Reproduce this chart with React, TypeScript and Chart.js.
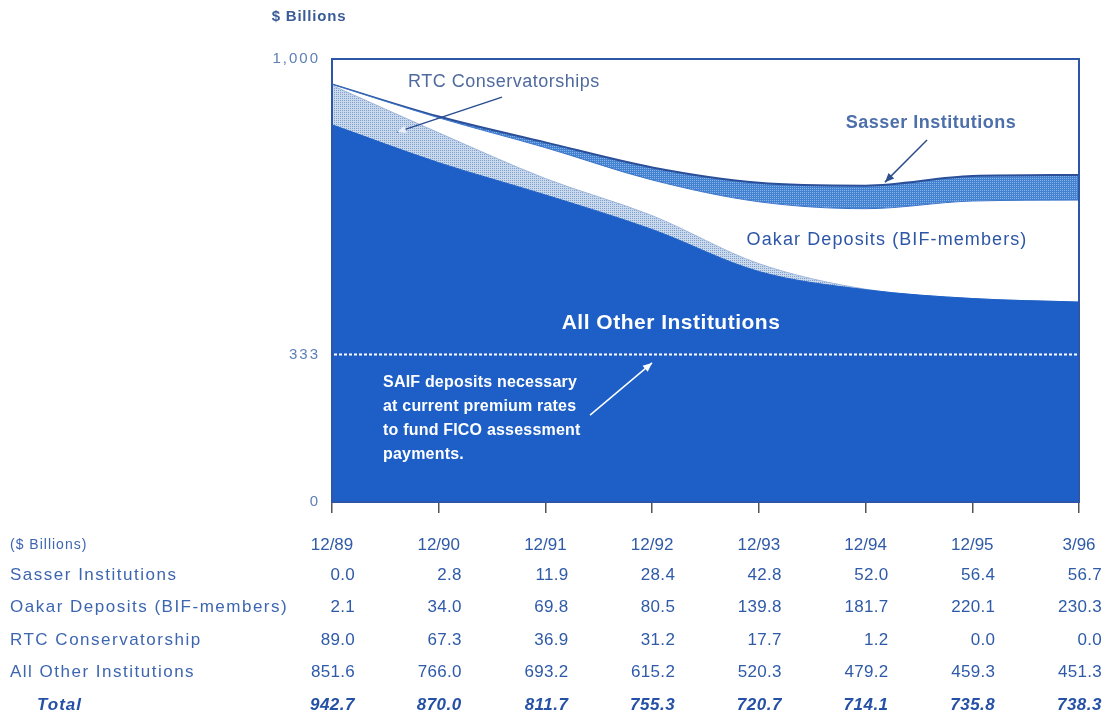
import React, { useEffect, useRef } from "react";
import { Chart, registerables } from "chart.js";

Chart.register(...registerables);

const categories = ["12/89", "12/90", "12/91", "12/92", "12/93", "12/94", "12/95", "3/96"];
const sasser = [0.0, 2.8, 11.9, 28.4, 42.8, 52.0, 56.4, 56.7];
const oakar = [2.1, 34.0, 69.8, 80.5, 139.8, 181.7, 220.1, 230.3];
const rtc = [89.0, 67.3, 36.9, 31.2, 17.7, 1.2, 0.0, 0.0];
const allOther = [851.6, 766.0, 693.2, 615.2, 520.3, 479.2, 459.3, 451.3];
const totals = [942.7, 870.0, 811.7, 755.3, 720.7, 714.1, 735.8, 738.3];
const yTickValues = [0, 333, 1000];
const yTickLabels = ["0", "333", "1,000"];
const saifLevel = 333;

const rowLabels = ["Sasser Institutions", "Oakar Deposits (BIF-members)", "RTC Conservatorship", "All Other Institutions"];
const rowValues = [sasser, oakar, rtc, allOther];

const FONT = "'Liberation Sans', Arial, Helvetica, sans-serif";

function makePattern(base: string, dot: string): CanvasPattern | string {
  const c = document.createElement("canvas");
  c.width = 4;
  c.height = 4;
  const g = c.getContext("2d");
  if (!g) return base;
  g.fillStyle = base;
  g.fillRect(0, 0, 4, 4);
  g.fillStyle = dot;
  g.fillRect(0, 0, 1, 1);
  g.fillRect(2, 2, 1, 1);
  g.fillRect(2, 0, 1, 1);
  g.fillRect(0, 2, 1, 1);
  const p = g.createPattern(c, "repeat");
  return p || base;
}

function drawText(ctx: any, s: string, x: number, y: number, font: string, color: string, align: string = "left", spacing: string = "0px") {
  ctx.font = font;
  ctx.fillStyle = color;
  ctx.textAlign = align;
  ctx.textBaseline = "middle";
  ctx.letterSpacing = spacing;
  ctx.fillText(s, x, y);
  ctx.letterSpacing = "0px";
}

function drawArrow(ctx: any, x1: number, y1: number, x2: number, y2: number, color: string, width: number, headColor: string) {
  ctx.strokeStyle = color;
  ctx.lineWidth = width;
  ctx.beginPath();
  ctx.moveTo(x1, y1);
  ctx.lineTo(x2, y2);
  ctx.stroke();
  const ang = Math.atan2(y2 - y1, x2 - x1);
  const len = 9;
  const hw = 4;
  ctx.fillStyle = headColor;
  ctx.beginPath();
  ctx.moveTo(x2, y2);
  ctx.lineTo(x2 - len * Math.cos(ang) + hw * Math.sin(ang), y2 - len * Math.sin(ang) - hw * Math.cos(ang));
  ctx.lineTo(x2 - len * Math.cos(ang) - hw * Math.sin(ang), y2 - len * Math.sin(ang) + hw * Math.cos(ang));
  ctx.closePath();
  ctx.fill();
}

const overlayPlugin = {
  id: "overlay",
  afterDatasetsDraw(chart: any) {
    const { ctx, chartArea: a, scales } = chart;
    const x = scales.x;
    const y = scales.y;
    const px = (i: number) => x.getPixelForValue(i);
    const py = (v: number) => y.getPixelForValue(v);
    ctx.save();

    // SAIF level dotted line
    ctx.strokeStyle = "#ffffff";
    ctx.lineWidth = 2;
    ctx.setLineDash([3, 2]);
    ctx.beginPath();
    ctx.moveTo(a.left + 2, py(saifLevel));
    ctx.lineTo(a.right - 2, py(saifLevel));
    ctx.stroke();
    ctx.setLineDash([]);

    // frame
    ctx.strokeStyle = "#2d56a8";
    ctx.lineWidth = 2;
    ctx.strokeRect(a.left, a.top, a.right - a.left, a.bottom - a.top);

    // annotations
    drawText(ctx, "RTC Conservatorships", px(0.712), py(948), `18px ${FONT}`, "#4f6a9c", "left", "0.5px");
    drawArrow(ctx, px(1.593), py(914), px(0.609), py(835), "#2a4d90", 1.5, "#e8eef8");

    drawText(ctx, "Sasser Institutions", px(5.613), py(856), `bold 18px ${FONT}`, "#4d70aa", "center", "0.5px");
    drawArrow(ctx, px(5.576), py(817), px(5.182), py(722), "#2e4f8c", 1.5, "#2e4f8c");

    drawText(ctx, "Oakar Deposits (BIF-members)", px(5.201), py(591), `18px ${FONT}`, "#2d56a6", "center", "1.1px");

    drawText(ctx, "All Other Institutions", px(3.177), py(404), `bold 21px ${FONT}`, "#ffffff", "center", "0.5px");

    const saifLines = ["SAIF deposits necessary", "at current premium rates", "to fund FICO assessment", "payments."];
    saifLines.forEach((s, k) => {
      drawText(ctx, s, px(0.478), py(269) + k * 24, `bold 16px ${FONT}`, "#ffffff", "left", "0.2px");
    });
    drawArrow(ctx, px(2.418), py(196), px(2.999), py(314), "#ffffff", 1.5, "#ffffff");

    ctx.restore();
  },
  afterDraw(chart: any) {
    const { ctx, chartArea: a, scales } = chart;
    const x = scales.x;
    const y = scales.y;
    ctx.save();

    // y tick labels
    y.ticks.forEach((t: any, k: number) => {
      drawText(ctx, yTickLabels[k], a.left - 12, y.getPixelForValue(t.value), `15px ${FONT}`, "#5d7fb5", "right", "2px");
    });

    drawText(ctx, "$ Billions", a.left - 23, a.top - 42, `bold 15px ${FONT}`, "#3a5b98", "center", "0.8px");

    // table
    const labelColor = "#3d66b0";
    const valueColor = "#2f5aa8";
    drawText(ctx, "($ Billions)", 10, 545, `14px ${FONT}`, labelColor, "left", "1px");
    const rowY = [575, 607, 640, 672];
    rowLabels.forEach((lab, r) => {
      drawText(ctx, lab, 10, rowY[r], `17px ${FONT}`, labelColor, "left", "1.5px");
      rowValues[r].forEach((v, i) => {
        drawText(ctx, v.toFixed(1), x.getPixelForValue(i) + 23, rowY[r], `17px ${FONT}`, valueColor, "right", "0.3px");
      });
    });
    drawText(ctx, "Total", 37, 705, `italic bold 17px ${FONT}`, "#2450a5", "left", "1px");
    totals.forEach((v, i) => {
      drawText(ctx, v.toFixed(1), x.getPixelForValue(i) + 23, 705, `italic bold 17px ${FONT}`, "#2450a5", "right", "0.5px");
    });

    ctx.restore();
  },
};

export default function App() {
  const ref = useRef<HTMLCanvasElement | null>(null);
  useEffect(() => {
    const canvas = ref.current;
    if (!canvas) return;
    const rtcFill = makePattern("#cbd9ed", "#7f9fcc");
    const sasserFill = makePattern("#4381d1", "#8ab3e7");
    const chart = new Chart(canvas, {
      type: "line",
      data: {
        labels: categories,
        datasets: [
          {
            label: "All Other Institutions",
            data: allOther,
            fill: "origin",
            backgroundColor: "#1d5fc6",
            borderColor: "#1d5fc6",
            borderWidth: 1,
            pointRadius: 0,
            cubicInterpolationMode: "monotone",
          },
          {
            label: "RTC Conservatorship",
            data: rtc,
            fill: "-1",
            backgroundColor: rtcFill as any,
            borderColor: "#a0b7da",
            borderWidth: 1,
            pointRadius: 0,
            cubicInterpolationMode: "monotone",
          },
          {
            label: "Oakar Deposits (BIF-members)",
            data: oakar,
            fill: "-1",
            backgroundColor: "#ffffff",
            borderColor: "#3a74c8",
            borderWidth: 1,
            pointRadius: 0,
            cubicInterpolationMode: "monotone",
          },
          {
            label: "Sasser Institutions",
            data: sasser,
            fill: "-1",
            backgroundColor: sasserFill as any,
            borderColor: "#2a4f98",
            borderWidth: 2,
            pointRadius: 0,
            cubicInterpolationMode: "monotone",
          },
        ],
      },
      options: {
        animation: false,
        responsive: false,
        devicePixelRatio: 1,
        layout: { padding: { top: 59, right: 24, left: 0, bottom: 0 } },
        plugins: {
          legend: { display: false },
          tooltip: { enabled: false },
        },
        scales: {
          x: {
            type: "category",
            offset: false,
            grid: {
              display: true,
              drawOnChartArea: false,
              drawTicks: true,
              tickLength: 11,
              color: "#555555",
              lineWidth: 1.5,
            },
            border: { display: false },
            ticks: {
              color: "#2f5aa8",
              font: { family: FONT, size: 17 },
              padding: 22,
              autoSkip: false,
              maxRotation: 0,
            },
            afterFit: (s: any) => {
              s.height = 215;
              s.paddingLeft = 0;
              s.paddingRight = 0;
            },
          },
          y: {
            stacked: true,
            min: 0,
            max: 1000,
            grid: { display: false },
            border: { display: false },
            ticks: { display: false },
            afterBuildTicks: (s: any) => {
              s.ticks = yTickValues.map((v) => ({ value: v }));
            },
            afterFit: (s: any) => {
              s.width = 332;
            },
          },
        },
      },
      plugins: [overlayPlugin],
    });
    return () => chart.destroy();
  }, []);
  return (
    <div style={{ position: "absolute", left: 0, top: 0, width: 1103, height: 717, background: "#ffffff" }}>
      <canvas ref={ref} width={1103} height={717} style={{ width: 1103, height: 717, display: "block" }} />
    </div>
  );
}
